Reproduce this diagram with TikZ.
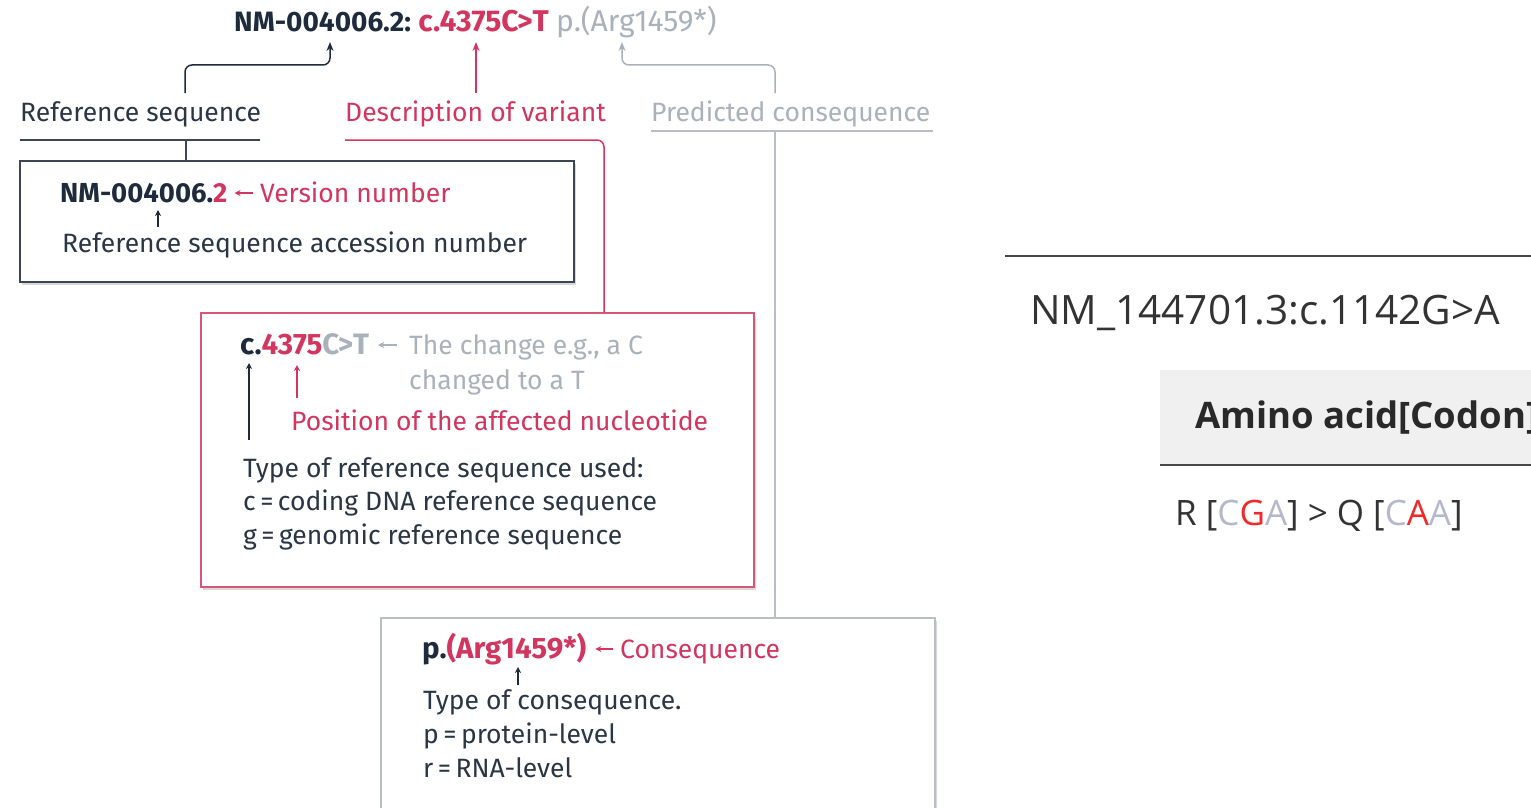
\documentclass[tikz,border=0pt]{standalone}
\usepackage{fontspec}
\setmainfont{Fira Sans}
\newfontfamily\rfont{Open Sans}
\usetikzlibrary{shadows,arrows.meta}
\definecolor{navy}{HTML}{1E2B3C}
\definecolor{body}{HTML}{2B3645}
\definecolor{crim}{HTML}{D2365F}
\definecolor{lgrey}{HTML}{A9B1BA}
\definecolor{dgrey}{HTML}{3D4754}
\definecolor{bgrey}{HTML}{B9BEC5}
\definecolor{hdr}{HTML}{F0F0F0}
\definecolor{rtxt}{HTML}{333333}
\definecolor{codonc}{HTML}{B4B8CC}
\definecolor{codonr}{HTML}{F02A2A}
\tikzset{
  txt/.style={anchor=base west, inner sep=0pt, font=\fontsize{26.5}{30}\selectfont},
  bigarr/.style={-{Stealth[length=9pt,width=7pt]}, line width=1.5pt},
  smallarr/.style={-{Stealth[length=6pt,width=6pt]}, line width=1.1pt},
  boxsh/.style={draw, line width=1.5pt, fill=white, anchor=north west, inner sep=0pt,
    drop shadow={opacity=0.3, shadow xshift=2pt, shadow yshift=-3pt}},
  uline/.style={line width=1.5pt},
}
\begin{document}
\begin{tikzpicture}[x=1pt,y=-1pt]
\useasboundingbox (0,0) rectangle (1531,808);
\clip (0,0) rectangle (1531,808);
\fill[white] (0,0) rectangle (1531,808);

% ---- top title ----
\node[txt, font=\fontsize{28}{30}\selectfont\bfseries, text=navy] (t1) at (234,32) {NM-004006.2:};
\node[txt, font=\fontsize{30}{30}\selectfont\bfseries, text=crim, anchor=base west] (t2) at ([xshift=7pt]t1.base east) {c.4375C>T};
\node[txt, font=\fontsize{30}{30}\selectfont, text=lgrey, anchor=base west] (t3) at ([xshift=7pt]t2.base east) {p.(Arg1459*)};
\coordinate (tipA) at (330,42);
\coordinate (tipB) at (476,42);
\coordinate (tipC) at (622,42);

% ---- labels ----
\node[txt, text=body] (refl) at (20,121) {Reference sequence};
\node[txt, text=crim] (desl) at (345,121) {Description of variant};
\node[txt, text=lgrey] (prel) at (651,121) {Predicted consequence};
\coordinate (refx) at (185,93);
\coordinate (prex) at (775,93);

\draw[bigarr, navy, rounded corners=7pt] (refx) |- (tipA |- 0,65) -- (tipA);
\draw[bigarr, crim] (tipB |- 0,93) -- (tipB);
\draw[bigarr, lgrey, rounded corners=7pt] (prex) |- (tipC |- 0,65) -- (tipC);

% ---- boxes ----
\node[boxsh, draw=dgrey, minimum width=554pt, minimum height=121pt] (b1) at (19,160) {};
\node[boxsh, draw=crim!85!white, minimum width=553pt, minimum height=274pt] (b2) at (200,312) {};
\node[boxsh, draw=bgrey, minimum width=554pt, minimum height=240pt] (b3) at (380,617) {};

% underlines and connectors to boxes
\draw[uline, dgrey] (20,140) -- (260,140);
\draw[uline, dgrey] (186,140) -- (b1.north -| 186,0);
\draw[uline, crim, rounded corners=7pt] (345,140) -- (604,140) -- (b2.north -| 604,0);
\draw[uline, bgrey] (651,131) -- (933,131);
\draw[uline, bgrey] (775,131) -- (b3.north -| 775,0);

% ---- box 1 ----
\node[txt, font=\fontsize{27.5}{30}\selectfont\bfseries, text=navy] (nm) at (60,202) {NM-004006.\textcolor{crim}{2}};
\node[txt, text=crim] (ver) at (260,202) {Version number};
\draw[smallarr, crim] ([xshift=-7pt,yshift=9pt]ver.base west) -- ([xshift=7pt,yshift=9pt]nm.base east);
\node[txt, text=body] (acc) at (62,252) {Reference sequence accession number};
\coordinate (accx) at (158,227);
\draw[smallarr, navy] (accx) -- (158,210);

% ---- box 2 ----
\node[txt, font=\fontsize{29.5}{30}\selectfont\bfseries, text=navy] (cv) at (240,354) {c.\textcolor{crim}{4375}\textcolor{lgrey}{C>T}};
\node[txt, text=lgrey] (chg1) at (409,354) {The change e.g., a C};
\node[txt, text=lgrey] (chg2) at (409,389) {changed to a T};
\draw[smallarr, lgrey] ([xshift=-12pt,yshift=9pt]chg1.base west) -- ([xshift=9pt,yshift=9pt]cv.base east);
\node[txt, text=crim] (pos) at (291,430) {Position of the affected nucleotide};
\node[txt, text=body] (typ) at (243,477) {Type of reference sequence used:};
\node[txt, text=body] (cdna) at (243,510) {c\,=\,coding DNA reference sequence};
\node[txt, text=body] (gen) at (243,544) {g\,=\,genomic reference sequence};
\coordinate (typx) at (249,440);
\draw[smallarr, navy, line width=1.4pt] (typx) -- (249,363);
\coordinate (posx) at (297,398);
\draw[smallarr, crim] (posx) -- (297,365);

% ---- box 3 ----
\node[txt, font=\fontsize{29.5}{30}\selectfont\bfseries, text=navy] (pv) at (422,658) {p.\textcolor{crim}{(Arg1459*)}};
\node[txt, text=crim] (cons) at (620,658) {Consequence};
\draw[smallarr, crim] ([xshift=-7pt,yshift=9pt]cons.base west) -- ([xshift=9pt,yshift=9pt]pv.base east);
\node[txt, text=body] (tc) at (423,709) {Type of consequence.};
\node[txt, text=body] (pl) at (423,743) {p\,=\,protein-level};
\node[txt, text=body] (rl) at (423,777) {r\,=\,RNA-level};
\coordinate (tcx) at (518,685);
\draw[smallarr, navy] (tcx) -- (518,667);

% ---- right part ----
\draw[line width=2.5pt, rtxt!90!white] (1005,256) -- (1531,256);
\node[anchor=base west, inner sep=0pt, font=\rfont\fontsize{40.5}{44}\selectfont, text=rtxt] (var) at (1030,324) {NM\_144701.3:c.1142G>A};
\fill[hdr] (1160,370) rectangle (1535,464);
\draw[line width=2.5pt, rtxt!90!white] (1160,465) -- (1535,465);
\node[anchor=base west, inner sep=0pt, font=\rfont\fontsize{36.5}{38}\selectfont\bfseries, text=rtxt!80!black] (hd) at (1195,428) {Amino acid[Codon]};
\node[anchor=base west, inner sep=0pt, font=\rfont\fontsize{35}{38}\selectfont, text=rtxt] (aa) at (1175,525)
  {R [\textcolor{codonc}{C}\textcolor{codonr}{G}\textcolor{codonc}{A}] > Q [\textcolor{codonc}{C}\textcolor{codonr}{A}\textcolor{codonc}{A}]};
\end{tikzpicture}
\end{document}
